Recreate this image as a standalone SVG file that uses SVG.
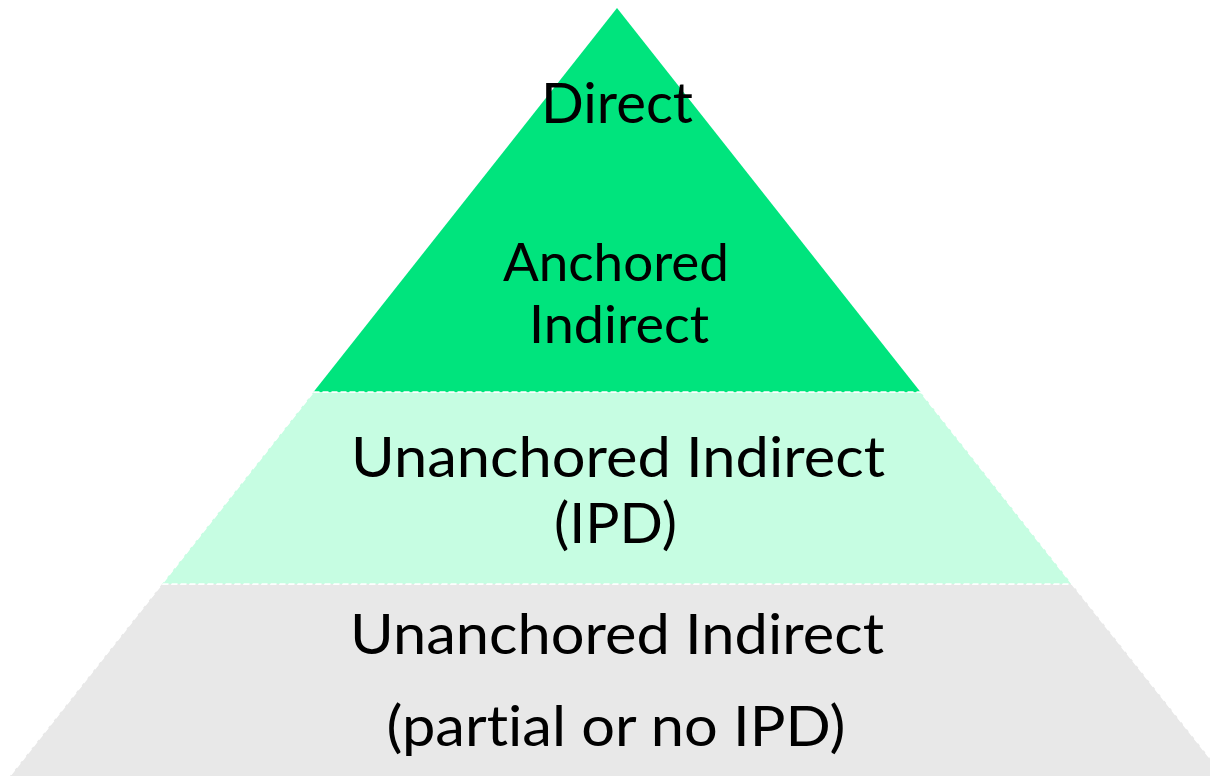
<svg xmlns="http://www.w3.org/2000/svg" width="1210" height="776" viewBox="0 0 1210 776">
  <style>
    .lbl { font-family: Lato, "Open Sans", "Liberation Sans", sans-serif; fill: #000; text-anchor: middle; font-variant-ligatures: none; font-feature-settings: "liga" 0, "clig" 0; }
    .band { stroke: #ffffff; stroke-width: 1.5; stroke-dasharray: 6 3; }
  </style>
  <rect x="0" y="0" width="1210" height="776" fill="#ffffff"/>
  <g id="tier-bottom">
    <polygon class="band" points="162,584 1072,584 1232,786 2,786" fill="#e8e8e8"/>
    <text class="lbl" x="617" y="654" font-size="57" textLength="534" lengthAdjust="spacingAndGlyphs">Unanchored Indirect</text>
    <text class="lbl" x="616" y="746" font-size="57" textLength="459" lengthAdjust="spacingAndGlyphs">(partial or no IPD)</text>
  </g>
  <g id="tier-middle">
    <polygon class="band" points="313.5,392 920.5,392 1072,584 162,584" fill="#c6fde2"/>
    <text class="lbl" x="618" y="477" font-size="57" textLength="534" lengthAdjust="spacingAndGlyphs">Unanchored Indirect</text>
    <text class="lbl" x="615.5" y="543" font-size="57" textLength="123" lengthAdjust="spacingAndGlyphs">(IPD)</text>
  </g>
  <g id="tier-top">
    <polygon points="617,8 920.5,392 313.5,392" fill="#00e47d"/>
    <line x1="313.5" y1="392" x2="920.5" y2="392" class="band"/>
    <text class="lbl" x="617" y="123" font-size="56" textLength="152" lengthAdjust="spacingAndGlyphs">Direct</text>
    <text class="lbl" x="616" y="281" font-size="53" textLength="226" lengthAdjust="spacingAndGlyphs">Anchored</text>
    <text class="lbl" x="619" y="343" font-size="53" textLength="180" lengthAdjust="spacingAndGlyphs">Indirect</text>
  </g>
  <g id="connectors"></g>
</svg>
